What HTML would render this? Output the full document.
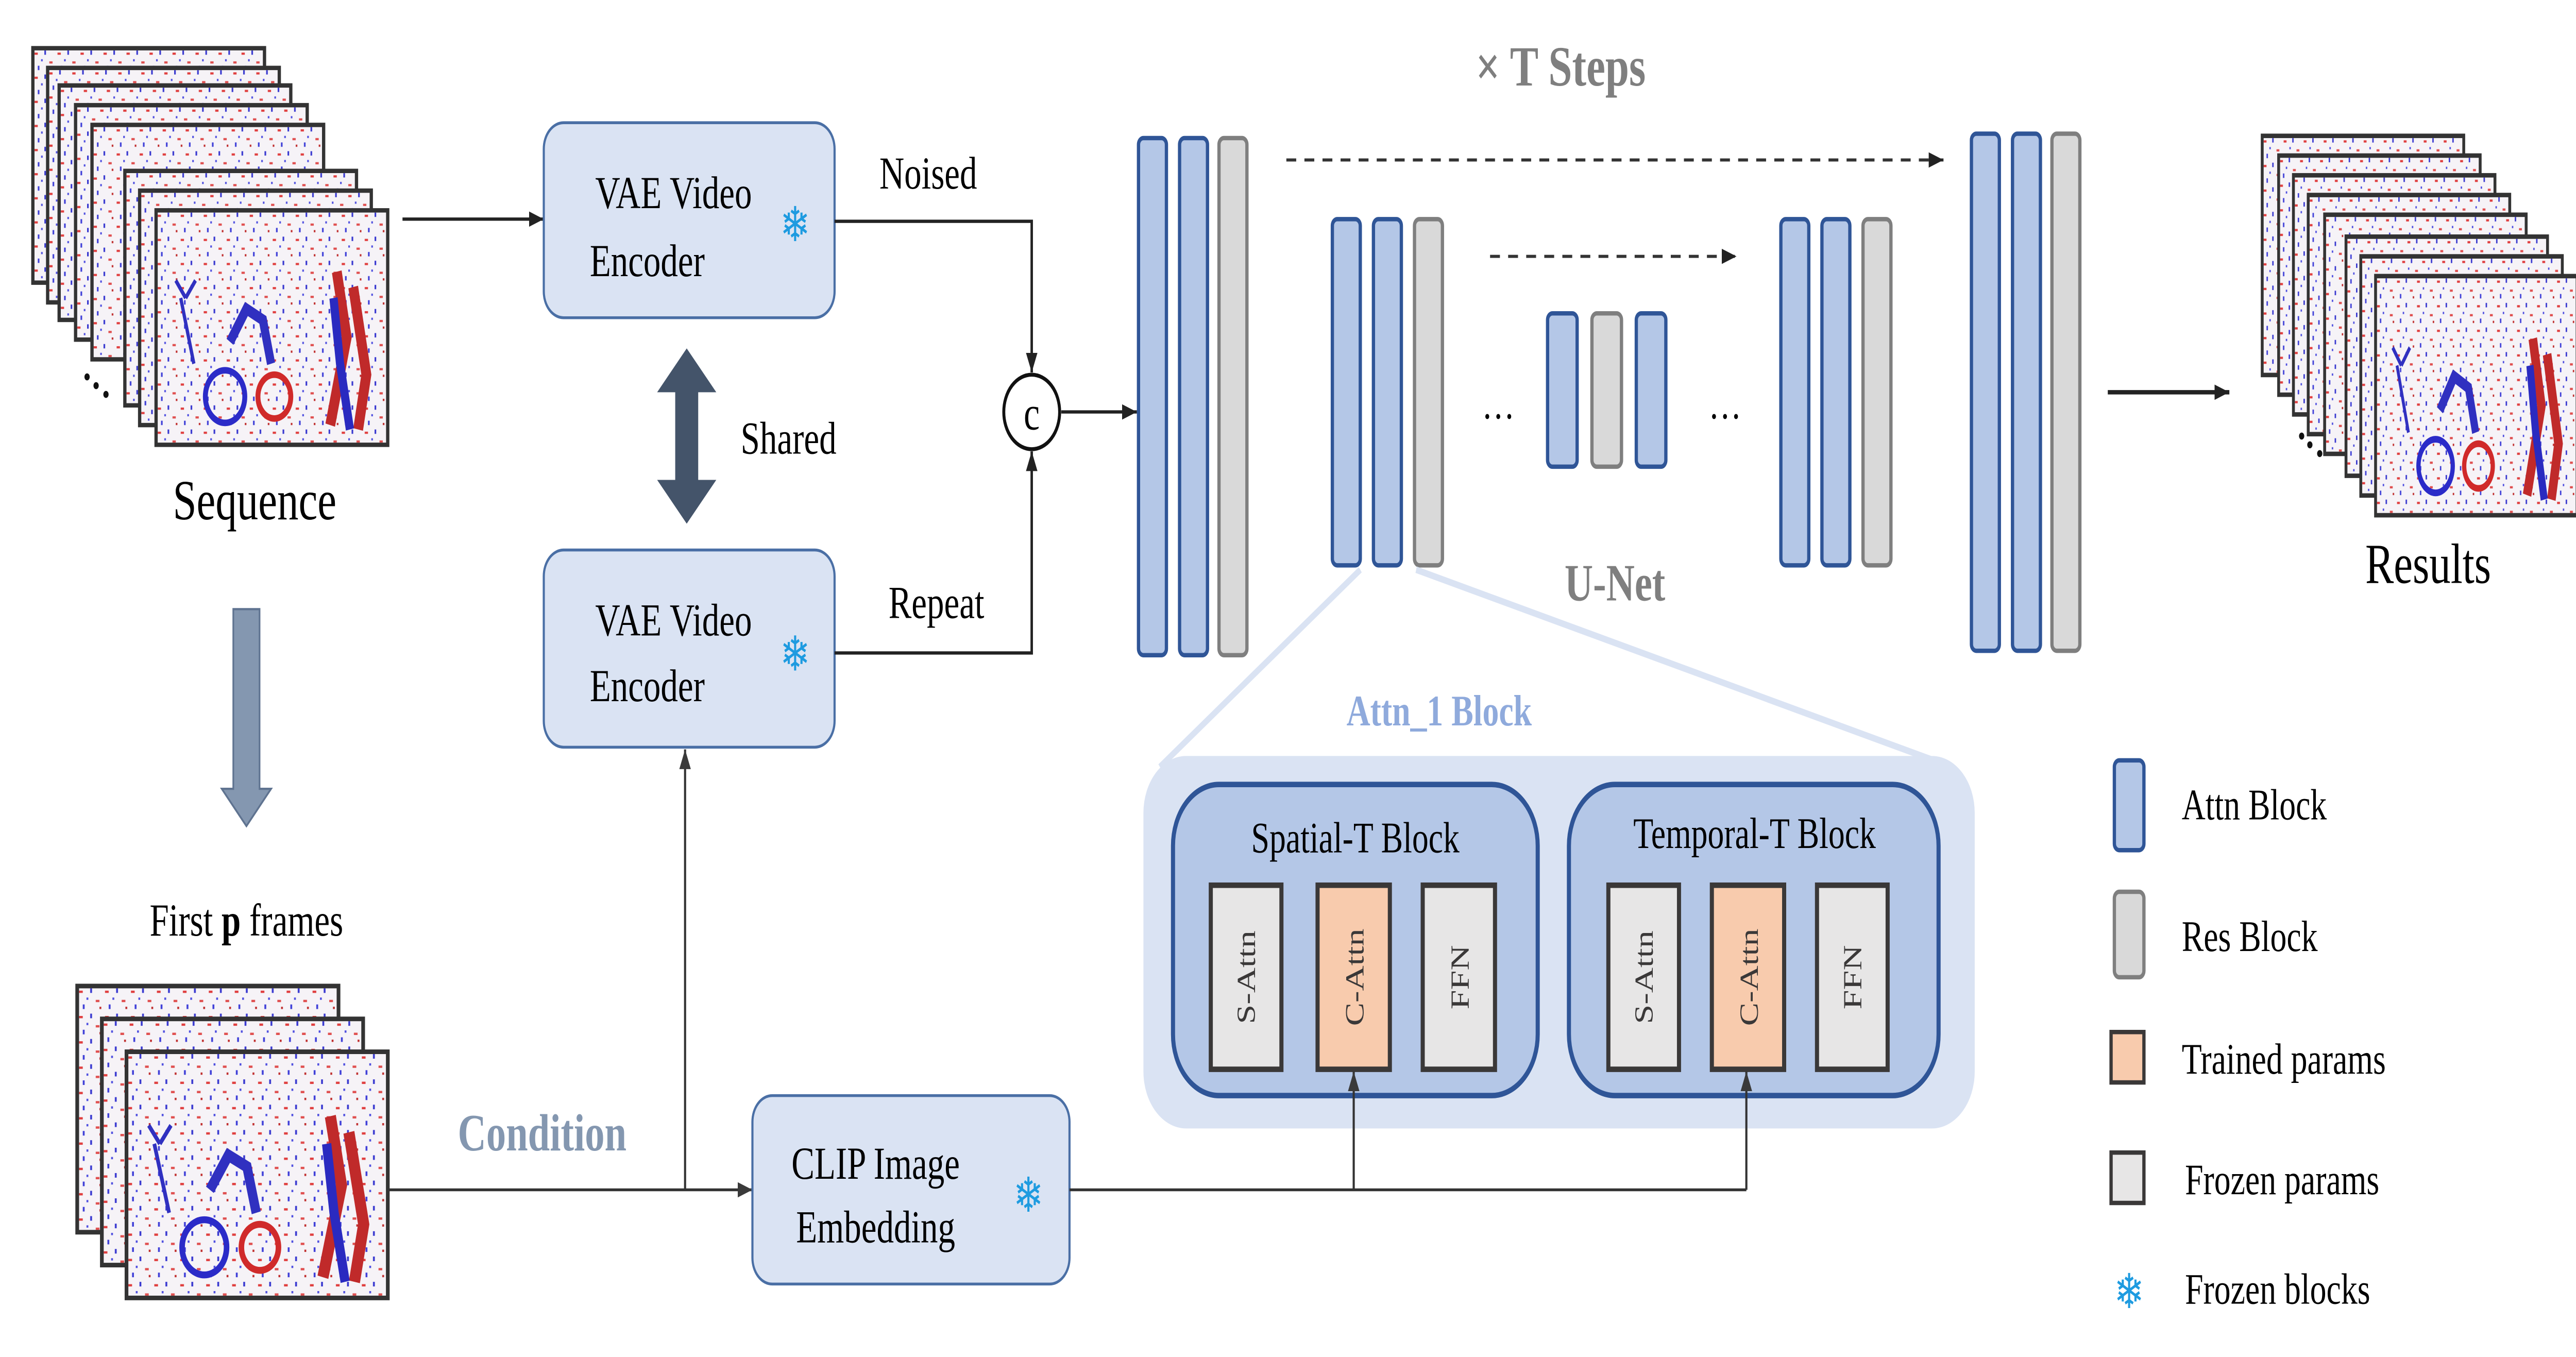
<!DOCTYPE html>
<html><head><meta charset="utf-8"><style>
html,body{margin:0;padding:0;background:#fff;width:100%;height:100%;overflow:hidden}
svg{display:block;position:fixed;left:0;top:0;width:100vw;height:100vh}
text{font-family:"Liberation Serif",serif}
</style></head><body>
<svg viewBox="0 0 1568 619.3" preserveAspectRatio="none" xmlns="http://www.w3.org/2000/svg">
<defs>
<pattern id="nz" width="14" height="11" patternUnits="userSpaceOnUse">
<rect width="14" height="11" fill="#f6f3f7"/>
<rect x="1" y="2" width="2" height="1" fill="#e04040"/>
<rect x="7" y="1" width="1" height="2" fill="#3a3ad0"/>
<rect x="10" y="6" width="2" height="1" fill="#e05050"/>
<rect x="3" y="8" width="1" height="2" fill="#4040d8"/>
<rect x="12" y="9" width="1" height="1" fill="#c03030"/>
<rect x="5" y="5" width="1" height="1" fill="#5050e0"/>
</pattern>
<g id="frame">
<rect x="0" y="0" width="141" height="107" fill="url(#nz)" stroke="#333" stroke-width="2"/>
</g>
<g id="front">
<rect x="0" y="0" width="141" height="107" fill="url(#nz)" stroke="#333" stroke-width="2"/>
<circle cx="42" cy="85" r="12" fill="none" stroke="#2b2bc8" stroke-width="3"/>
<circle cx="72" cy="85" r="10" fill="none" stroke="#d02a2a" stroke-width="3"/>
<path d="M45 60 l10 -15 l10 5 l5 20" fill="none" stroke="#3030c0" stroke-width="5"/>
<path d="M110 28 l6 30 l-10 40 M120 35 l8 40 l-5 25" fill="none" stroke="#c02a2a" stroke-width="6"/>
<path d="M108 40 l4 30 l6 30" fill="none" stroke="#2a2ac0" stroke-width="5"/>
<path d="M15 40 l8 30 M18 40 l-6 -8 M18 40 l6 -8" fill="none" stroke="#3030c0" stroke-width="2"/>
</g>
<marker id="ah" markerWidth="10" markerHeight="10" refX="9" refY="5" orient="auto" markerUnits="userSpaceOnUse">
<path d="M0 1.5 L9 5 L0 8.5 Z" fill="#222"/></marker>
<marker id="ahd" markerWidth="10" markerHeight="10" refX="9" refY="5" orient="auto" markerUnits="userSpaceOnUse">
<path d="M0 1.5 L9 5 L0 8.5 Z" fill="#3a3a3a"/></marker>
</defs>

<use href="#frame" x="20" y="22"/>
<use href="#frame" x="29" y="31"/>
<use href="#frame" x="36" y="39"/>
<use href="#frame" x="46" y="48"/>
<use href="#frame" x="56" y="57"/>
<use href="#frame" x="76" y="78"/>
<use href="#frame" x="85" y="87"/>
<use href="#front" x="95" y="96"/>
<circle cx="53" cy="172" r="1.6" fill="#111"/><circle cx="58.5" cy="176" r="1.6" fill="#111"/><circle cx="64.5" cy="180" r="1.6" fill="#111"/>
<text x="155" y="237" font-size="26" text-anchor="middle">Sequence</text>

<g transform="translate(47,450) scale(1.128,1.05)"><use href="#frame"/></g>
<g transform="translate(62,465) scale(1.128,1.05)"><use href="#frame"/></g>
<g transform="translate(77,480) scale(1.128,1.05)"><use href="#front"/></g>
<text x="150" y="427" font-size="21" text-anchor="middle">First <tspan font-weight="bold">p</tspan> frames</text>

<path d="M142 278 h16 v82 h7 l-15 17 l-15 -17 h7 z" fill="#8497b0" stroke="#5f7390" stroke-width="1"/>

<g transform="translate(1377,62) scale(0.87,1.02)"><use href="#frame"/></g>
<g transform="translate(1387,71) scale(0.87,1.02)"><use href="#frame"/></g>
<g transform="translate(1396,80) scale(0.87,1.02)"><use href="#frame"/></g>
<g transform="translate(1405,89) scale(0.87,1.02)"><use href="#frame"/></g>
<g transform="translate(1415,98) scale(0.87,1.02)"><use href="#frame"/></g>
<g transform="translate(1428,108) scale(0.87,1.02)"><use href="#frame"/></g>
<g transform="translate(1437,117) scale(0.87,1.02)"><use href="#frame"/></g>
<g transform="translate(1446,126) scale(0.87,1.02)"><use href="#front"/></g>
<circle cx="1401" cy="199" r="1.6" fill="#111"/><circle cx="1406" cy="203" r="1.6" fill="#111"/><circle cx="1412" cy="207" r="1.6" fill="#111"/>
<text x="1478" y="266" font-size="26" text-anchor="middle">Results</text>

<line x1="245" y1="100" x2="331" y2="100" stroke="#222" stroke-width="1.5" marker-end="url(#ah)"/>

<rect x="331" y="56" width="177" height="89" rx="12" fill="#dae3f3" stroke="#4a6fa5" stroke-width="1.3"/>
<text x="410" y="95" font-size="21" text-anchor="middle">VAE Video</text>
<text x="394" y="126" font-size="21" text-anchor="middle">Encoder</text>
<text x="484" y="110" font-size="22" fill="#1e9be0" text-anchor="middle" font-family="DejaVu Sans">❄</text>

<rect x="331" y="251" width="177" height="90" rx="12" fill="#dae3f3" stroke="#4a6fa5" stroke-width="1.3"/>
<text x="410" y="290" font-size="21" text-anchor="middle">VAE Video</text>
<text x="394" y="320" font-size="21" text-anchor="middle">Encoder</text>
<text x="484" y="306" font-size="22" fill="#1e9be0" text-anchor="middle" font-family="DejaVu Sans">❄</text>

<path d="M418 159 l-18 20 h11 v40 h-11 l18 20 l18 -20 h-11 v-40 h11 z" fill="#44546a"/>
<text x="480" y="207" font-size="21" text-anchor="middle">Shared</text>

<text x="565" y="86" font-size="21" text-anchor="middle">Noised</text>
<polyline points="508,101 628,101 628,170" fill="none" stroke="#222" stroke-width="1.5" marker-end="url(#ah)"/>
<text x="570" y="282" font-size="21" text-anchor="middle">Repeat</text>
<polyline points="508,298 628,298 628,206" fill="none" stroke="#222" stroke-width="1.5" marker-end="url(#ah)"/>
<circle cx="628" cy="188" r="17" fill="#fff" stroke="#111" stroke-width="1.8"/>
<text x="628" y="196" font-size="22" text-anchor="middle">c</text>
<line x1="646" y1="188" x2="692" y2="188" stroke="#222" stroke-width="1.5" marker-end="url(#ah)"/>

<text x="330" y="525" font-size="24" font-weight="bold" fill="#8497b0" text-anchor="middle">Condition</text>
<line x1="236" y1="543" x2="458" y2="543" stroke="#333" stroke-width="1.3" marker-end="url(#ahd)"/>
<line x1="417" y1="543" x2="417" y2="342" stroke="#333" stroke-width="1.3" marker-end="url(#ahd)"/>

<rect x="458" y="500" width="193" height="86" rx="12" fill="#dae3f3" stroke="#4a6fa5" stroke-width="1.3"/>
<text x="533" y="538" font-size="21" text-anchor="middle">CLIP Image</text>
<text x="533" y="567" font-size="21" text-anchor="middle">Embedding</text>
<text x="626" y="553" font-size="22" fill="#1e9be0" text-anchor="middle" font-family="DejaVu Sans">❄</text>
<polyline points="651,543 1063,543" fill="none" stroke="#333" stroke-width="1.3"/>

<g stroke-width="2">
<rect x="693" y="63" width="17" height="236" rx="3" fill="#b4c7e7" stroke="#2f5597"/>
<rect x="718" y="63" width="17" height="236" rx="3" fill="#b4c7e7" stroke="#2f5597"/>
<rect x="742" y="63" width="17" height="236" rx="3" fill="#d9d9d9" stroke="#7f7f7f"/>
<rect x="811" y="100" width="17" height="158" rx="3" fill="#b4c7e7" stroke="#2f5597"/>
<rect x="836" y="100" width="17" height="158" rx="3" fill="#b4c7e7" stroke="#2f5597"/>
<rect x="861" y="100" width="17" height="158" rx="3" fill="#d9d9d9" stroke="#7f7f7f"/>
<rect x="942" y="143" width="18" height="70" rx="3" fill="#b4c7e7" stroke="#2f5597"/>
<rect x="969" y="143" width="18" height="70" rx="3" fill="#d9d9d9" stroke="#7f7f7f"/>
<rect x="996" y="143" width="18" height="70" rx="3" fill="#b4c7e7" stroke="#2f5597"/>
<rect x="1084" y="100" width="17" height="158" rx="3" fill="#b4c7e7" stroke="#2f5597"/>
<rect x="1109" y="100" width="17" height="158" rx="3" fill="#b4c7e7" stroke="#2f5597"/>
<rect x="1134" y="100" width="17" height="158" rx="3" fill="#d9d9d9" stroke="#7f7f7f"/>
<rect x="1200" y="61" width="17" height="236" rx="3" fill="#b4c7e7" stroke="#2f5597"/>
<rect x="1225" y="61" width="17" height="236" rx="3" fill="#b4c7e7" stroke="#2f5597"/>
<rect x="1249" y="61" width="17" height="236" rx="3" fill="#d9d9d9" stroke="#7f7f7f"/>
</g>
<line x1="783" y1="73" x2="1183" y2="73" stroke="#333" stroke-width="1.4" stroke-dasharray="6,5" marker-end="url(#ah)"/>
<line x1="907" y1="117" x2="1057" y2="117" stroke="#333" stroke-width="1.4" stroke-dasharray="6,5" marker-end="url(#ah)"/>
<text x="950" y="39" font-size="26" font-weight="bold" fill="#7f7f7f" text-anchor="middle">× T Steps</text>
<text x="983" y="274" font-size="24" font-weight="bold" fill="#7f7f7f" text-anchor="middle">U-Net</text>
<text x="912" y="191" font-size="20" text-anchor="middle">…</text>
<text x="1050" y="191" font-size="20" text-anchor="middle">…</text>
<line x1="1283" y1="179" x2="1357" y2="179" stroke="#222" stroke-width="2" marker-end="url(#ah)"/>

<line x1="828" y1="260" x2="706" y2="350" stroke="#dae3f3" stroke-width="3"/>
<line x1="862" y1="260" x2="1188" y2="350" stroke="#dae3f3" stroke-width="3"/>
<text x="876" y="331" font-size="20" font-weight="bold" fill="#8faadc" text-anchor="middle">Attn_1 Block</text>

<rect x="696" y="345" width="506" height="170" rx="26" fill="#dae3f3"/>
<rect x="714" y="358" width="222" height="142" rx="28" fill="#b4c7e7" stroke="#2f5597" stroke-width="2.5"/>
<rect x="955" y="358" width="225" height="142" rx="28" fill="#b4c7e7" stroke="#2f5597" stroke-width="2.5"/>
<text x="825" y="389" font-size="20" text-anchor="middle">Spatial-T Block</text>
<text x="1068" y="387" font-size="20" text-anchor="middle">Temporal-T Block</text>
<g stroke="#3a3838" stroke-width="2.5">
<rect x="737" y="404" width="43" height="84" fill="#e7e6e6"/>
<rect x="802" y="404" width="44" height="84" fill="#f8cbad"/>
<rect x="866" y="404" width="44" height="84" fill="#e7e6e6"/>
<rect x="979" y="404" width="43" height="84" fill="#e7e6e6"/>
<rect x="1042" y="404" width="44" height="84" fill="#f8cbad"/>
<rect x="1106" y="404" width="43" height="84" fill="#e7e6e6"/>
</g>
<line x1="824" y1="543" x2="824" y2="489" stroke="#333" stroke-width="1.3" marker-end="url(#ahd)"/>
<line x1="1063" y1="543" x2="1063" y2="489" stroke="#333" stroke-width="1.3" marker-end="url(#ahd)"/>
<g font-size="16" fill="#3a3838" text-anchor="middle">
<text transform="translate(764,446) rotate(-90)">S-Attn</text>
<text transform="translate(830,446) rotate(-90)">C-Attn</text>
<text transform="translate(894,446) rotate(-90)">FFN</text>
<text transform="translate(1006,446) rotate(-90)">S-Attn</text>
<text transform="translate(1070,446) rotate(-90)">C-Attn</text>
<text transform="translate(1133,446) rotate(-90)">FFN</text>
</g>

<rect x="1287" y="347" width="18" height="41" rx="3" fill="#b4c7e7" stroke="#2f5597" stroke-width="2"/>
<text x="1328" y="374" font-size="20">Attn Block</text>
<rect x="1287" y="407" width="18" height="39" rx="3" fill="#d9d9d9" stroke="#7f7f7f" stroke-width="2"/>
<text x="1328" y="434" font-size="20">Res Block</text>
<rect x="1285" y="471" width="20" height="23" fill="#f8cbad" stroke="#3a3838" stroke-width="2"/>
<text x="1328" y="490" font-size="20">Trained params</text>
<rect x="1285" y="526" width="20" height="23" fill="#e7e6e6" stroke="#3a3838" stroke-width="2"/>
<text x="1330" y="545" font-size="20">Frozen params</text>
<text x="1296" y="597" font-size="22" fill="#1e9be0" text-anchor="middle" font-family="DejaVu Sans">❄</text>
<text x="1330" y="595" font-size="20">Frozen blocks</text>
</svg>
</body></html>
